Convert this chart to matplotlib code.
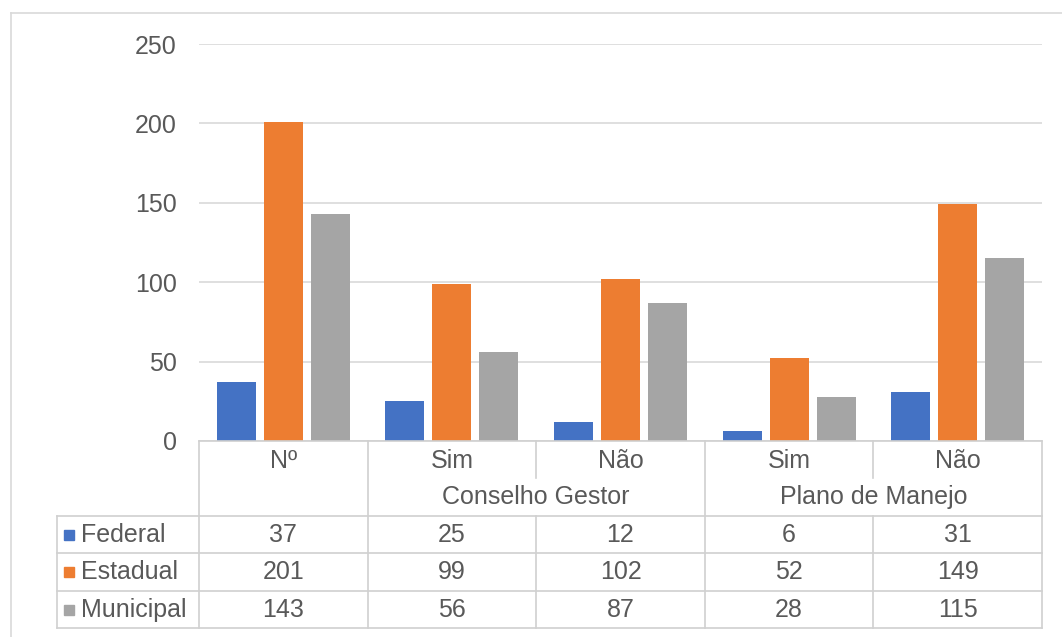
import matplotlib
matplotlib.use("Agg")
import matplotlib.pyplot as plt
from matplotlib.lines import Line2D
import numpy as np

# Data
categories = ["Nº", "Sim", "Não", "Sim", "Não"]
groups = ["Conselho Gestor", "Plano de Manejo"]
series_names = ["Federal", "Estadual", "Municipal"]
federal = [37, 25, 12, 6, 31]
estadual = [201, 99, 102, 52, 149]
municipal = [143, 56, 87, 28, 115]
y_ticks = [0, 50, 100, 150, 200, 250]

series_values = [federal, estadual, municipal]
colors = ["#4472C4", "#ED7D31", "#A5A5A5"]
text_color = "#595959"
line_color = "#D9D9D9"
table_line = "#D0D0D0"

plt.rcParams["font.family"] = ["Liberation Sans", "DejaVu Sans"]
FS = 18

W, H = 1062, 637
fig = plt.figure(figsize=(W / 100, H / 100), dpi=100)
fig.patch.set_facecolor("white")

# pixel geometry
px_left, px_right = 199, 1042
px_top, px_zero = 44, 441

ax = fig.add_axes([px_left / W, 1 - px_zero / H,
                   (px_right - px_left) / W, (px_zero - px_top) / H])
n = len(categories)
ax.set_xlim(0, n)
ax.set_ylim(0, 250)

bar_w = 0.231
step = 0.279
x = np.arange(n) + 0.5
for k, (vals, c) in enumerate(zip(series_values, colors)):
    ax.bar(x + (k - 1) * step, vals, width=bar_w, color=c, zorder=3)

ax.set_yticks(y_ticks)
ax.set_yticklabels([str(t) for t in y_ticks], fontsize=FS, color=text_color)
ax.tick_params(axis="y", length=0, pad=16)
ax.set_xticks([])
ax.grid(axis="y", color=line_color, linewidth=1.2, zorder=0)
for s in ax.spines.values():
    s.set_visible(False)

# Data table below the plot, sharing the category x scale
tab = fig.add_axes([px_left / W, 0, (px_right - px_left) / W, 1 - px_zero / H],
                   sharex=ax)
tab.set_ylim(H, px_zero)
tab.axis("off")

col_px = (px_right - px_left) / n
legend_left = -(px_left - 57) / col_px
row_lines = [516, 553, 591, 628]
row_centers = [535, 572, 610]
kw = dict(color=table_line, linewidth=1.2, clip_on=False)

# horizontal rules
tab.add_line(Line2D([0, n], [px_zero, px_zero], **kw))
for yl in row_lines:
    tab.add_line(Line2D([legend_left, n], [yl, yl], **kw))
# vertical rules
tab.add_line(Line2D([legend_left, legend_left], [row_lines[0], row_lines[-1]], **kw))
for xv in [0, 1, 3, 5]:
    tab.add_line(Line2D([xv, xv], [px_zero, row_lines[-1]], **kw))
for xv in [2, 4]:
    tab.add_line(Line2D([xv, xv], [px_zero, 478], **kw))
    tab.add_line(Line2D([xv, xv], [row_lines[0], row_lines[-1]], **kw))

# header rows
for i, cat in enumerate(categories):
    tab.text(i + 0.5, 461, cat, ha="center", va="center", fontsize=FS,
             color=text_color, clip_on=False)
for gx, g in zip([2, 4], groups):
    tab.text(gx, 497, g, ha="center", va="center", fontsize=FS,
             color=text_color, clip_on=False)

# series rows
sq_x = legend_left + (69 - 57) / col_px
txt_x = legend_left + (81 - 57) / col_px
for name, vals, c, yc in zip(series_names, series_values, colors, row_centers):
    tab.plot([sq_x], [yc], marker="s", markersize=7, color=c, clip_on=False,
             linestyle="none")
    tab.text(txt_x, yc, name, ha="left", va="center", fontsize=FS,
             color=text_color, clip_on=False)
    for i, v in enumerate(vals):
        tab.text(i + 0.5, yc, str(v), ha="center", va="center", fontsize=FS,
                 color=text_color, clip_on=False)

# chart frame
fig.add_artist(Line2D([11 / W, 11 / W], [0, 1 - 13 / H], transform=fig.transFigure,
                      color=line_color, linewidth=1.2))
fig.add_artist(Line2D([11 / W, 1], [1 - 13 / H, 1 - 13 / H], transform=fig.transFigure,
                      color=line_color, linewidth=1.2))

fig.savefig("out.png", dpi=100, facecolor="white")
